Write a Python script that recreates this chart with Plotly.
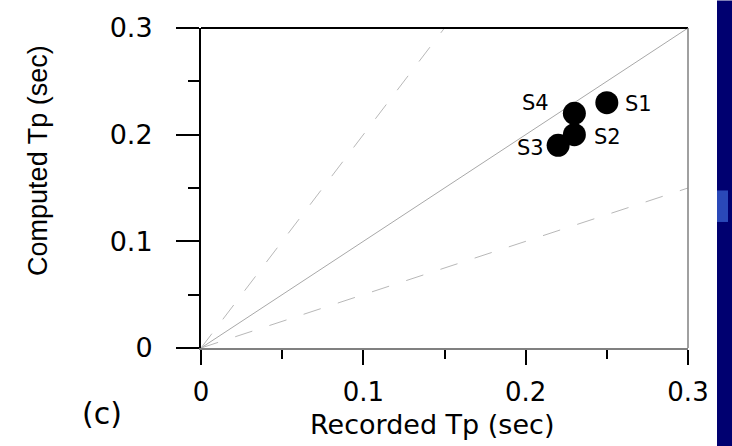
import plotly.graph_objects as go

# ---- data ----
site_names = ["S1", "S2", "S3", "S4"]
recorded_tp = [0.25, 0.23, 0.22, 0.23]
computed_tp = [0.23, 0.20, 0.19, 0.22]
ref_x = [0, 0.3]
ref_ratio_lines = [1.0, 2.0, 0.5]   # slopes of the 1:1 and factor-of-2 lines
tick_vals = [0, 0.1, 0.2, 0.3]
tick_text = ["0", "0.1", "0.2", "0.3"]

# ---- layout geometry (pixels) ----
W, H = 732, 446
L, R, T, B = 201, 688, 23, 348
PW, PH = R - L, B - T


def px(xp):
    return (xp - L) / PW


def py(yp):
    return (B - yp) / PH


FONT = "DejaVu Sans"

fig = go.Figure()

# reference lines
for s in ref_ratio_lines:
    ys = [v * s for v in ref_x]
    if s == 1.0:
        line = dict(color="#a8a8a8", width=1)
    else:
        line = dict(color="#b8b8b8", width=1, dash="18px,18px")
    fig.add_trace(go.Scatter(x=ref_x, y=ys, mode="lines", line=line,
                             hoverinfo="skip", showlegend=False))

# data points
fig.add_trace(go.Scatter(x=recorded_tp, y=computed_tp, mode="markers",
                         marker=dict(size=23, color="black"),
                         showlegend=False))

label_shift = {"S1": (32, -1), "S2": (33, -2), "S3": (-28, -3), "S4": (-39, 10)}
for n, x, y in zip(site_names, recorded_tp, computed_tp):
    dx, dy = label_shift[n]
    fig.add_annotation(x=x, y=y, text=n, showarrow=False, xshift=dx, yshift=dy,
                       font=dict(family=FONT, size=21, color="black"))

# titles as annotations
fig.add_annotation(x=px(432), y=py(426), xref="paper", yref="paper",
                   text="Recorded Tp (sec)", showarrow=False,
                   xanchor="center", yanchor="middle",
                   font=dict(family=FONT, size=27, color="black"))
fig.add_annotation(x=px(38), y=py(158), xref="paper", yref="paper",
                   text="Computed Tp (sec)", showarrow=False, textangle=-90,
                   xanchor="center", yanchor="middle",
                   font=dict(family="Liberation Sans", size=27, color="black"))
fig.add_annotation(x=px(102), y=py(415), xref="paper", yref="paper",
                   text="(c)", showarrow=False,
                   xanchor="center", yanchor="middle",
                   font=dict(family=FONT, size=30, color="black"))

# borders
fig.add_shape(type="line", xref="paper", yref="paper", x0=0, x1=1, y0=1, y1=1,
              line=dict(color="black", width=2), layer="above")
fig.add_shape(type="line", xref="paper", yref="paper", x0=1, x1=1, y0=0, y1=1,
              line=dict(color="#808080", width=1.5), layer="above")

# blue slide strip on the right
fig.add_shape(type="rect", xref="paper", yref="paper",
              x0=px(717), x1=px(740), y0=py(450), y1=py(-5),
              line=dict(width=0), fillcolor="#000070", layer="above")
fig.add_shape(type="rect", xref="paper", yref="paper",
              x0=px(717), x1=px(728), y0=py(220), y1=py(188),
              line=dict(width=0), fillcolor="#2a48b8", layer="above")

fig.update_xaxes(range=[0, 0.3], tickvals=tick_vals, ticktext=tick_text,
                 showgrid=False, zeroline=False, showline=True,
                 linecolor="#808080", linewidth=2,
                 ticks="outside", ticklen=15, tickwidth=1.5, tickcolor="black",
                 ticklabelstandoff=5,
                 minor=dict(dtick=0.05, ticks="outside", ticklen=9,
                            tickcolor="black", tickwidth=1.5, showgrid=False),
                 tickfont=dict(family=FONT, size=26, color="black"))
fig.update_yaxes(range=[0, 0.3], tickvals=tick_vals, ticktext=tick_text,
                 showgrid=False, zeroline=False, showline=True,
                 linecolor="black", linewidth=2,
                 ticks="outside", ticklen=23, tickwidth=1.5, tickcolor="black",
                 ticklabelstandoff=18,
                 minor=dict(dtick=0.05, ticks="outside", ticklen=11,
                            tickcolor="black", tickwidth=1.5, showgrid=False),
                 tickfont=dict(family=FONT, size=27, color="black"))

fig.update_layout(width=W, height=H,
                  margin=dict(l=L, r=W - R, t=T, b=H - B, pad=0),
                  paper_bgcolor="white", plot_bgcolor="white",
                  showlegend=False)

fig.write_html("out.html")
